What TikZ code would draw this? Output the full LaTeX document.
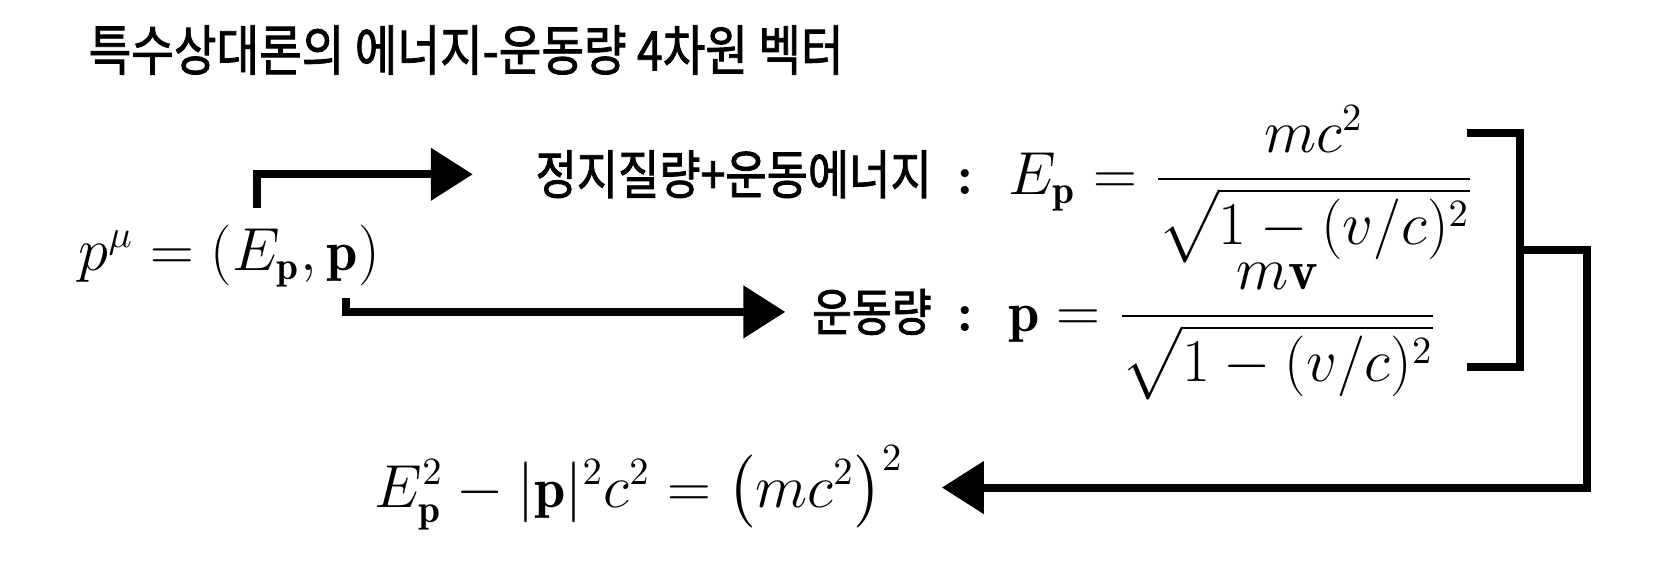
\documentclass[tikz,border=0pt]{standalone}
\usepackage{amsmath}
\usepackage{fontspec}
\newfontfamily\kr{Noto Sans CJK KR}[FakeStretch=0.85,FakeBold=1.5]
\usetikzlibrary{arrows.meta}

\tikzset{
  kor text/.style={font=\kr\fontsize{15.5}{18}\selectfont, inner sep=0pt},
  formula/.style={font=\fontsize{16}{19}\selectfont, inner sep=0pt},
  bracket line/.style={line width=2.3pt},
  thick arrow/.style={line width=2.3pt, -{Triangle[length=0.42cm, width=0.51cm]}}
}

\begin{document}
\begin{tikzpicture}[x=0.01cm, y=-0.01cm]
\useasboundingbox (0,0) rectangle (1680,560);

\node [kor text, anchor=west] (title) at (88,50) {특수상대론의 에너지-운동량 4차원 벡터};

\node [formula, anchor=base west] (four) at (78,270) {$p^{\mu} = (E_{\mathbf p}, \mathbf p)$};

\node [formula, anchor=base east] (energy) at (975,194)
  {{\kr\fontsize{15}{18}\selectfont 정지질량+운동에너지}\hspace{0.25cm}\textbf{:}};
\node [formula, anchor=base west] (energy-eq) at (1008,194)
  {$E_{\mathbf p} = \dfrac{mc^2}{\sqrt{1-(v/c)^2}}$};

\node [formula, anchor=base east] (momentum) at (975,331)
  {{\kr\fontsize{14.5}{18}\selectfont 운동량}\hspace{0.25cm}\textbf{:}};
\node [formula, anchor=base west] (momentum-eq) at (1008,331)
  {$\mathbf p = \dfrac{m\mathbf v}{\sqrt{1-(v/c)^2}}$};

\node [formula, anchor=base west] (invariant) at (374,507)
  {$E_{\mathbf p}^2 - |\mathbf p|^2c^2 = \bigl(mc^2\bigr)^2$};

\draw [thick arrow, shorten >=0.62cm] ([xshift=0.28cm, yshift=0.16cm]four.north) |- (energy.west);
\draw [thick arrow, shorten >=0.26cm] ([xshift=1.17cm, yshift=-0.11cm]four.south) |- (momentum.west);

\draw [bracket line] (1467,133) -| (1520,367) -- (1467,367);
\coordinate (bracket-mid) at (1520,250);
\draw [thick arrow, shorten >=0.38cm] (bracket-mid) -- (1587,250) |- (invariant.east);

\end{tikzpicture}
\end{document}
